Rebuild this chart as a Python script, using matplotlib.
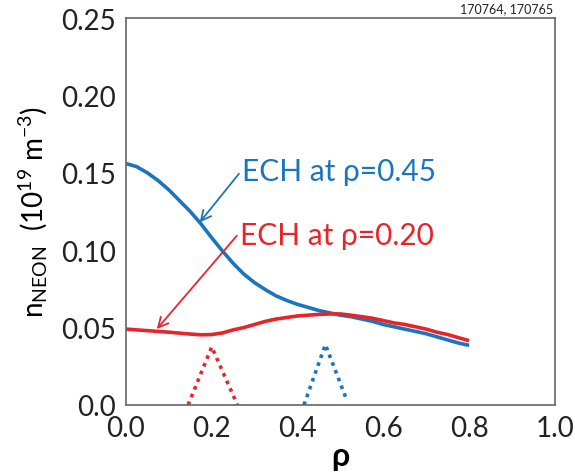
import matplotlib
matplotlib.use("Agg")
import matplotlib.pyplot as plt

rho = [0.0, 0.025, 0.05, 0.075, 0.1, 0.125, 0.15, 0.175, 0.2, 0.225, 0.25, 0.275, 0.3, 0.325,
       0.35, 0.375, 0.4, 0.425, 0.45, 0.475, 0.5, 0.525, 0.55, 0.575, 0.6, 0.625, 0.65, 0.675,
       0.7, 0.725, 0.75, 0.775, 0.8]
blue = [0.156, 0.154, 0.150, 0.145, 0.139, 0.132, 0.125, 0.117, 0.108, 0.0995, 0.0915, 0.0845, 0.079, 0.0745,
        0.0705, 0.0675, 0.065, 0.063, 0.061, 0.0595, 0.058, 0.057, 0.0555, 0.054, 0.052, 0.0505, 0.049, 0.0475,
        0.046, 0.044, 0.042, 0.040, 0.0385]
red = [0.049, 0.0485, 0.048, 0.0475, 0.047, 0.0464, 0.0458, 0.0453, 0.0455, 0.0465, 0.0485, 0.050, 0.052, 0.054,
       0.0555, 0.0565, 0.0575, 0.058, 0.0585, 0.0588, 0.0588, 0.058, 0.057, 0.056, 0.0545, 0.053, 0.052, 0.0505,
       0.049, 0.047, 0.0455, 0.0435, 0.0415]

red_dep_x = [0.145, 0.20, 0.26]
red_dep_y = [0.0, 0.0375, 0.0]
blue_dep_x = [0.415, 0.465, 0.515]
blue_dep_y = [0.0, 0.039, 0.003]

BLUE = "#1b75bc"
RED = "#e8242b"

plt.rcParams['font.family'] = ['Lato', 'DejaVu Sans']
plt.rcParams['mathtext.fontset'] = 'custom'
plt.rcParams['mathtext.rm'] = 'Lato'
plt.rcParams['mathtext.it'] = 'Lato:italic'

fig = plt.figure(figsize=(5.75, 4.77), dpi=100)
ax = fig.add_axes([0.219, 0.149, 0.746, 0.811])

ax.plot(rho, blue, color=BLUE, lw=2.6, solid_capstyle="butt", solid_joinstyle="round")
ax.plot(rho, red, color=RED, lw=2.6, solid_capstyle="butt", solid_joinstyle="round")
ax.plot(red_dep_x, red_dep_y, color=RED, lw=2.6, linestyle=(0, (1, 1.3)))
ax.plot(blue_dep_x, blue_dep_y, color=BLUE, lw=2.6, linestyle=(0, (1, 1.3)))

ax.set_xlim(0, 1.0)
ax.set_ylim(0, 0.25)
ax.set_xticks([0.0, 0.2, 0.4, 0.6, 0.8, 1.0])
ax.set_xticklabels(["0.0", "0.2", "0.4", "0.6", "0.8", "1.0"])
ax.set_yticks([0.0, 0.05, 0.10, 0.15, 0.20, 0.25])
ax.set_yticklabels(["0.0", "0.05", "0.10", "0.15", "0.20", "0.25"])
ax.tick_params(length=0, labelsize=20, pad=7, colors="#222222")
for s in ax.spines.values():
    s.set_color("#666666")
    s.set_linewidth(1.2)

ax.set_xlabel("ρ", fontsize=23, fontweight="bold", labelpad=0)
ax.set_ylabel(r"n$_{\mathregular{NEON}}$  (10$^{\mathregular{19}}$ m$^{\mathregular{-3}}$)", fontsize=20, labelpad=8)

ax.annotate("ECH at ρ=0.45", xy=(0.172, 0.118), xytext=(0.27, 0.151),
            fontsize=21.5, color=BLUE, va="center", ha="left",
            arrowprops=dict(arrowstyle="->", color=BLUE, lw=1.3, mutation_scale=18,
                            shrinkA=0, shrinkB=0, relpos=(-0.01, 0.45)))
ax.annotate("ECH at ρ=0.20", xy=(0.072, 0.049), xytext=(0.265, 0.110),
            fontsize=21.5, color=RED, va="center", ha="left",
            arrowprops=dict(arrowstyle="->", color=RED, lw=1.3, mutation_scale=18,
                            shrinkA=0, shrinkB=0, relpos=(-0.01, 0.5)))

fig.text(0.962, 0.968, "170764, 170765", fontsize=9, ha="right", va="bottom", color="#222222")

fig.savefig("out.png", dpi=100)
